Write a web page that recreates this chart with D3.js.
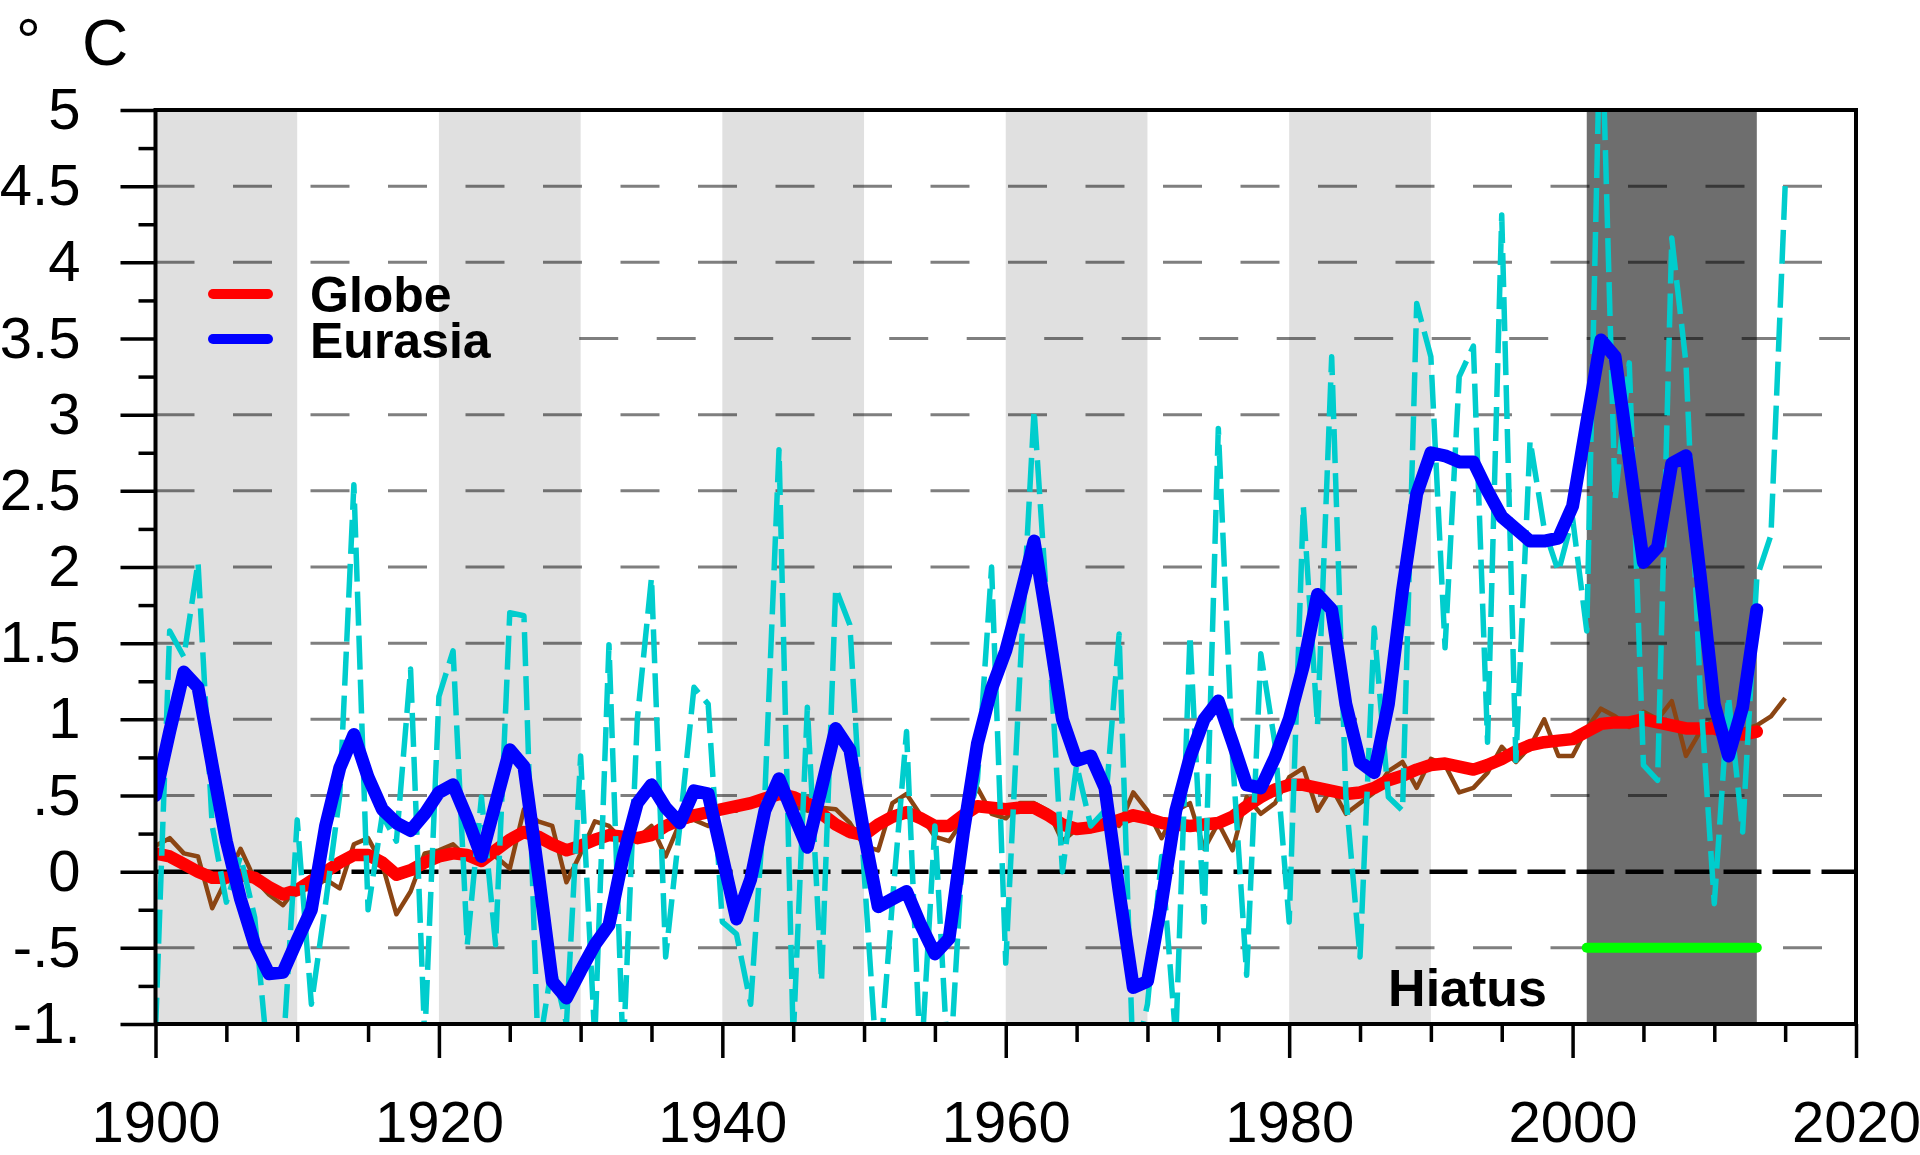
<!DOCTYPE html>
<html>
<head>
<meta charset="utf-8">
<script src="https://cdn.jsdelivr.net/npm/d3@7"></script>
<style>
  body { margin: 0; background: #fff; }
  text { font-family: "Liberation Sans", Arial, Helvetica, sans-serif; }
</style>
</head>
<body>
<script>
    //Declare consts/global variables
        const width = 1920;
        const height = 1155;
        const plot = {left: 155.5, right: 1856, top: 110, bottom: 1024};

    //Data - one value per year starting at startYear
        const startYear = 1900;

        // Eurasia annual anomaly (cyan dashed), 1900-2015
        const eurasiaAnnual = [
            -1.05, 1.58, 1.41, 2.03, 0.30, -0.20, 0.10, -0.30, -1.30, -1.20,
            0.34, -0.87, -0.21, 0.50, 2.54, -0.25, 0.37, 0.20, 1.33, -1.10,
            1.15, 1.45, -0.48, 0.49, -0.48, 1.70, 1.68, -1.20, -0.60, -1.00,
            0.76, -1.10, 1.49, -1.20, 1.00, 1.93, -0.56, 0.30, 1.21, 1.10,
            -0.33, -0.41, -0.87, 0.50, 2.77, -1.10, 1.08, -0.72, 1.86, 1.62,
            0.00, -1.40, -0.20, 0.92, -1.30, 0.30, -1.40, 0.20, 0.60, 2.00,
            -0.60, 1.30, 3.03, 1.62, 0.00, 0.70, 0.30, 0.40, 1.56, -1.30,
            -0.87, 0.10, -1.10, 1.55, -0.33, 2.91, 0.76, -0.68, 1.43, 0.84,
            -0.33, 2.40, 0.96, 3.38, 0.50, -0.56, 1.60, 0.49, 0.40, 3.73,
            3.38, 1.47, 3.25, 3.45, 0.85, 4.31, 0.73, 2.83, 2.25, 1.97,
            2.32, 1.58, 5.80, 2.44, 3.34, 0.70, 0.60, 4.16, 3.34, 1.20,
            -0.21, 1.15, 0.26, 1.93, 2.21, 4.50
        ];

        // Globe annual anomaly (brown), 1900-2015
        const globeAnnual = [
            0.17, 0.22, 0.12, 0.10, -0.24, -0.05, 0.15, -0.05, -0.15, -0.22,
            -0.10, -0.12, -0.05, -0.11, 0.18, 0.22, 0.05, -0.28, -0.13, 0.12,
            0.14, 0.18, 0.09, 0.16, 0.10, 0.02, 0.41, 0.33, 0.30, -0.07,
            0.12, 0.33, 0.30, 0.20, 0.22, 0.30, 0.10, 0.32, 0.34, 0.30,
            0.41, 0.40, 0.47, 0.50, 0.55, 0.43, 0.40, 0.42, 0.41, 0.32,
            0.17, 0.14, 0.45, 0.51, 0.37, 0.23, 0.20, 0.34, 0.55, 0.38,
            0.35, 0.45, 0.45, 0.40, 0.20, 0.28, 0.32, 0.34, 0.30, 0.52,
            0.40, 0.22, 0.40, 0.45, 0.15, 0.32, 0.14, 0.49, 0.38, 0.45,
            0.62, 0.68, 0.40, 0.55, 0.38, 0.45, 0.52, 0.66, 0.72, 0.55,
            0.74, 0.70, 0.52, 0.55, 0.65, 0.82, 0.72, 0.82, 1.00, 0.76,
            0.76, 0.94, 1.07, 1.02, 0.95, 1.05, 1.00, 1.12, 0.76, 0.92,
            1.00, 0.88, 0.93, 0.96, 1.02, 1.14
        ];

        // Globe smoothed (red), 1900-2013
        const globeSmooth = [
            0.12, 0.10, 0.05, 0.00, -0.04, -0.04, -0.02, -0.04, -0.10, -0.15,
            -0.12, -0.06, 0.00, 0.06, 0.11, 0.11, 0.06, -0.02, 0.01, 0.06,
            0.10, 0.12, 0.11, 0.07, 0.14, 0.21, 0.26, 0.23, 0.18, 0.14,
            0.17, 0.21, 0.24, 0.23, 0.22, 0.24, 0.30, 0.34, 0.37, 0.39,
            0.41, 0.43, 0.45, 0.48, 0.51, 0.49, 0.45, 0.38, 0.31, 0.26,
            0.24, 0.31, 0.36, 0.39, 0.35, 0.30, 0.30, 0.37, 0.43, 0.42,
            0.41, 0.42, 0.42, 0.37, 0.31, 0.28, 0.29, 0.31, 0.34, 0.37,
            0.35, 0.32, 0.31, 0.30, 0.31, 0.32, 0.36, 0.43, 0.49, 0.54,
            0.57, 0.57, 0.55, 0.53, 0.51, 0.52, 0.55, 0.60, 0.63, 0.67,
            0.70, 0.71, 0.69, 0.67, 0.70, 0.74, 0.79, 0.83, 0.85, 0.86,
            0.87, 0.92, 0.97, 0.98, 0.98, 1.00, 0.98, 0.96, 0.94, 0.94,
            0.94, 0.91, 0.90, 0.92
        ];

        // Eurasia smoothed (blue), 1900-2013
        const eurasiaSmooth = [
            0.50, 0.92, 1.31, 1.21, 0.70, 0.20, -0.18, -0.48, -0.67, -0.66,
            -0.45, -0.25, 0.30, 0.68, 0.90, 0.62, 0.41, 0.32, 0.27, 0.38,
            0.52, 0.57, 0.35, 0.10, 0.45, 0.80, 0.69, 0.00, -0.72, -0.83,
            -0.65, -0.48, -0.35, 0.10, 0.45, 0.57, 0.42, 0.32, 0.53, 0.51,
            0.10, -0.31, -0.05, 0.40, 0.61, 0.38, 0.16, 0.55, 0.94, 0.80,
            0.25, -0.23, -0.18, -0.13, -0.35, -0.54, -0.44, 0.25, 0.84, 1.20,
            1.45, 1.80, 2.17, 1.60, 1.00, 0.73, 0.76, 0.55, -0.13, -0.76,
            -0.72, -0.20, 0.40, 0.75, 1.00, 1.12, 0.85, 0.57, 0.55, 0.75,
            1.00, 1.35, 1.82, 1.72, 1.10, 0.72, 0.65, 1.10, 1.85, 2.48,
            2.75, 2.73, 2.69, 2.69, 2.50, 2.33, 2.25, 2.17, 2.17, 2.19,
            2.40, 2.95, 3.49, 3.38, 2.70, 2.03, 2.13, 2.68, 2.73, 1.95,
            1.10, 0.76, 1.08, 1.72
        ];

        // shaded periods
        const lightBands = [[1900, 1910], [1920, 1930], [1940, 1950], [1960, 1970], [1980, 1990]];
        const hiatus = [2001, 2013];
        const hiatusLevel = -0.5;

        // ticks
        const yMajor = [5, 4.5, 4, 3.5, 3, 2.5, 2, 1.5, 1, 0.5, 0, -0.5, -1];
        const yLabels = ["5", "4.5", "4", "3.5", "3", "2.5", "2", "1.5", "1", ".5", "0", "-.5", "-1."];
        const yMinor = [4.75, 4.25, 3.75, 3.25, 2.75, 2.25, 1.75, 1.25, 0.75, 0.25, -0.25, -0.75];
        const xMajor = [1900, 1920, 1940, 1960, 1980, 2000, 2020];
        const xMinor = [1905, 1910, 1915, 1925, 1930, 1935, 1945, 1950, 1955, 1965, 1970, 1975,
                        1985, 1990, 1995, 2005, 2010, 2015];
        const gridValues = [4.5, 4, 3.5, 3, 2.5, 2, 1.5, 1, 0.5, -0.5];

        const toPoints = arr => arr.map((v, i) => ({year: startYear + i, value: v}));


    //Scales
        const xScale = d3.scaleLinear()
                        .domain([1900, 2020])
                        .range([plot.left, plot.right]);

        const yScale = d3.scaleLinear()
                        .domain([-1, 5])
                        .range([plot.bottom, plot.top]);


    //SVG
        const svg = d3.select("body")
                    .append("svg")
                    .attr("width", width)
                    .attr("height", height);

        svg.append("rect")
            .attr("width", width)
            .attr("height", height)
            .attr("fill", "#fff");

        svg.append("clipPath")
            .attr("id", "plotClip")
            .append("rect")
            .attr("x", plot.left)
            .attr("y", plot.top)
            .attr("width", plot.right - plot.left)
            .attr("height", plot.bottom - plot.top);


    //Bands
        svg.selectAll(".band")
            .data(lightBands)
            .enter()
            .append("rect")
            .attr("class", "band")
            .attr("x", d => xScale(d[0]))
            .attr("y", plot.top)
            .attr("width", d => xScale(d[1]) - xScale(d[0]))
            .attr("height", plot.bottom - plot.top)
            .attr("fill", "#e0e0e0");

        svg.append("rect")
            .attr("x", xScale(hiatus[0]))
            .attr("y", plot.top)
            .attr("width", xScale(hiatus[1]) - xScale(hiatus[0]))
            .attr("height", plot.bottom - plot.top)
            .attr("fill", "#6e6e6e");


    //Grid - dashed grey, the 3.5 line stops short of the legend
        svg.selectAll(".grid")
            .data(gridValues)
            .enter()
            .append("line")
            .attr("class", "grid")
            .attr("x1", d => d === 3.5 ? xScale(1929.9) : plot.left)
            .attr("x2", plot.right - 6)
            .attr("y1", d => yScale(d))
            .attr("y2", d => yScale(d))
            .attr("stroke", "#000")
            .attr("stroke-opacity", 0.5)
            .attr("stroke-width", 3)
            .attr("stroke-dasharray", "39,38.5");

        svg.append("line")
            .attr("x1", plot.left)
            .attr("x2", plot.right)
            .attr("y1", yScale(0))
            .attr("y2", yScale(0))
            .attr("stroke", "#000")
            .attr("stroke-width", 4.5)
            .attr("stroke-dasharray", "38,11");


    //Lines
        const line = d3.line()
                    .x(d => xScale(d.year))
                    .y(d => yScale(d.value));

        const lines = svg.append("g").attr("clip-path", "url(#plotClip)");

        lines.append("path")
            .datum(toPoints(globeAnnual))
            .attr("d", line)
            .attr("fill", "none")
            .attr("stroke", "#8b4513")
            .attr("stroke-width", 4.5)
            .attr("stroke-linejoin", "round");

        lines.append("path")
            .datum(toPoints(globeSmooth))
            .attr("d", line)
            .attr("fill", "none")
            .attr("stroke", "#ff0000")
            .attr("stroke-width", 12.5)
            .attr("stroke-linejoin", "round")
            .attr("stroke-linecap", "round");

        lines.append("path")
            .datum(toPoints(eurasiaAnnual))
            .attr("d", line)
            .attr("fill", "none")
            .attr("stroke", "#00cdcd")
            .attr("stroke-width", 5.5)
            .attr("stroke-dasharray", "34,10")
            .attr("stroke-linejoin", "round");

        lines.append("path")
            .datum(toPoints(eurasiaSmooth))
            .attr("d", line)
            .attr("fill", "none")
            .attr("stroke", "#0000ff")
            .attr("stroke-width", 13)
            .attr("stroke-linejoin", "round")
            .attr("stroke-linecap", "round");

        // hiatus marker
        svg.append("line")
            .attr("x1", xScale(hiatus[0]))
            .attr("x2", xScale(hiatus[1]))
            .attr("y1", yScale(hiatusLevel))
            .attr("y2", yScale(hiatusLevel))
            .attr("stroke", "#00ff00")
            .attr("stroke-width", 10)
            .attr("stroke-linecap", "round");


    //Frame
        svg.append("rect")
            .attr("x", plot.left)
            .attr("y", plot.top)
            .attr("width", plot.right - plot.left)
            .attr("height", plot.bottom - plot.top)
            .attr("fill", "none")
            .attr("stroke", "#000")
            .attr("stroke-width", 4);


    //Axes
        const leftAxis = d3.axisLeft(yScale)
                           .tickValues(yMajor)
                           .tickFormat((d, i) => yLabels[i])
                           .tickSize(35)
                           .tickPadding(40);

        const leftMinor = d3.axisLeft(yScale)
                            .tickValues(yMinor)
                            .tickFormat("")
                            .tickSize(17);

        const bottomAxis = d3.axisBottom(xScale)
                             .tickValues(xMajor)
                             .tickFormat(d3.format("d"))
                             .tickSize(34)
                             .tickPadding(43);

        const bottomMinor = d3.axisBottom(xScale)
                              .tickValues(xMinor)
                              .tickFormat("")
                              .tickSize(18);

        [[leftAxis, "left"], [leftMinor, "left"], [bottomAxis, "bottom"], [bottomMinor, "bottom"]].forEach(([ax, side]) => {
            const g = svg.append("g")
                .attr("transform", side === "left" ? "translate(" + plot.left + ",0)" : "translate(0," + plot.bottom + ")")
                .call(ax);
            g.select(".domain").remove();
            g.selectAll(".tick line").attr("stroke", "#000").attr("stroke-width", 3.5);
            g.selectAll(".tick text")
                .attr("fill", "#000")
                .style("font-size", "58px")
                .style("font-family", "'Liberation Sans', Arial, sans-serif");
        });


    //Labels
        svg.append("text")
            .attr("x", 16)
            .attr("y", 62)
            .style("font-size", "62px")
            .text("°");

        svg.append("text")
            .attr("x", 82)
            .attr("y", 65)
            .style("font-size", "64px")
            .text("C");

        svg.append("text")
            .attr("x", 1547)
            .attr("y", 1006)
            .attr("text-anchor", "end")
            .style("font-size", "52px")
            .style("font-weight", "bold")
            .text("Hiatus");


    //Legend
        const legendItems = [
            {label: "Globe", color: "#ff0000", y: 294, textY: 312},
            {label: "Eurasia", color: "#0000ff", y: 339, textY: 358}
        ];

        const legend = svg.append("g");

        legend.selectAll("line")
            .data(legendItems)
            .enter()
            .append("line")
            .attr("x1", 213)
            .attr("x2", 268)
            .attr("y1", d => d.y)
            .attr("y2", d => d.y)
            .attr("stroke", d => d.color)
            .attr("stroke-width", 10)
            .attr("stroke-linecap", "round");

        legend.selectAll("text")
            .data(legendItems)
            .enter()
            .append("text")
            .attr("x", 310)
            .attr("y", d => d.textY)
            .style("font-size", "50px")
            .style("font-weight", "bold")
            .text(d => d.label);
</script>
</body>
</html>
